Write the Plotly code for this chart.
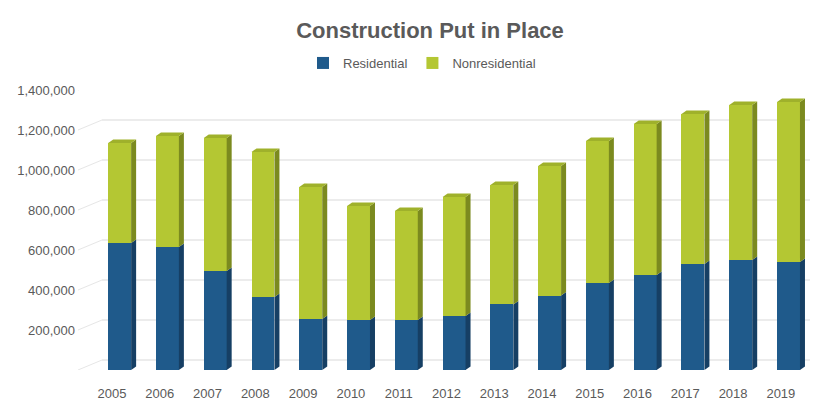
import plotly.graph_objects as go

# Construction put in place, by year
years = ["2005", "2006", "2007", "2008", "2009", "2010", "2011", "2012",
         "2013", "2014", "2015", "2016", "2017", "2018", "2019"]
residential = [635000, 615000, 495000, 365000, 255000, 250000, 250000, 270000,
               328000, 372000, 435000, 475000, 530000, 550000, 540000]
nonresidential = [500000, 555000, 665000, 725000, 660000, 570000, 545000, 595000,
                  597000, 648000, 710000, 755000, 750000, 775000, 800000]
y_ticks = [200000, 400000, 600000, 800000, 1000000, 1200000, 1400000]

# page / plot geometry
W, H = 818, 401
M_L, M_R, M_T, M_B = 80, 8, 90, 31
X_RANGE = [-0.67, 14.61]
Y_RANGE = [0, 1400000]
plot_w = W - M_L - M_R
plot_h = H - M_T - M_B
x_per_px = (X_RANGE[1] - X_RANGE[0]) / plot_w
y_per_px = (Y_RANGE[1] - Y_RANGE[0]) / plot_h

# bar styling (front face + extruded side / top faces)
BAR_W = 0.48
BAR_OFF = -0.08
DEPTH_X = 5 * x_per_px
DEPTH_Y = 3.5 * y_per_px
WALL_RISE = 10          # px rise of the back wall gridlines
WALL_RUN = 22           # px run of the side wall diagonals

C_RES, C_RES_SIDE = "#1f5a8b", "#163f64"
C_NON, C_NON_SIDE, C_NON_TOP = "#b4c733", "#7b8a1f", "#9fb12b"
C_TEXT = "#5a5a5a"
C_GRID = "#d9d9d9"

xs = list(range(len(years)))

fig = go.Figure()
fig.add_trace(go.Bar(x=xs, y=residential, name="Residential",
                     marker=dict(color=C_RES, line=dict(width=0)),
                     width=BAR_W, offset=BAR_OFF))
fig.add_trace(go.Bar(x=xs, y=nonresidential, name="Nonresidential",
                     marker=dict(color=C_NON, line=dict(width=0)),
                     width=BAR_W, offset=BAR_OFF))

shapes = []

# back wall gridlines and side wall diagonals
for v in [0] + y_ticks:
    shapes.append(dict(type="line", xref="paper", yref="y",
                       xsizemode="pixel", ysizemode="pixel",
                       xanchor=0, yanchor=v,
                       x0=WALL_RUN, x1=plot_w, y0=WALL_RISE, y1=WALL_RISE,
                       line=dict(color=C_GRID, width=1), layer="below"))
    shapes.append(dict(type="line", xref="paper", yref="y",
                       xsizemode="pixel", ysizemode="pixel",
                       xanchor=0, yanchor=v,
                       x0=-2, x1=WALL_RUN, y0=0, y1=WALL_RISE,
                       line=dict(color="#e6e6e6", width=1), layer="below"))


def side_face(xr, lo, hi, color):
    path = (f"M {xr},{lo} L {xr + DEPTH_X},{lo + DEPTH_Y} "
            f"L {xr + DEPTH_X},{hi + DEPTH_Y} L {xr},{hi} Z")
    return dict(type="path", xref="x", yref="y", path=path,
                fillcolor=color, line=dict(width=0), layer="above")


for i, (r, n) in enumerate(zip(residential, nonresidential)):
    xl = i + BAR_OFF
    xr = xl + BAR_W
    top = r + n
    shapes.append(side_face(xr, 0, r, C_RES_SIDE))
    shapes.append(side_face(xr, r, top, C_NON_SIDE))
    cap = (f"M {xl},{top} L {xl + DEPTH_X},{top + DEPTH_Y} "
           f"L {xr + DEPTH_X},{top + DEPTH_Y} L {xr},{top} Z")
    shapes.append(dict(type="path", xref="x", yref="y", path=cap,
                       fillcolor=C_NON_TOP, line=dict(width=0), layer="above"))

fig.update_layout(
    width=W, height=H,
    margin=dict(l=M_L, r=M_R, t=M_T, b=M_B, autoexpand=False),
    paper_bgcolor="white", plot_bgcolor="white",
    barmode="stack",
    font=dict(family="Liberation Sans, Arial, sans-serif", color=C_TEXT, size=13),
    title=dict(text="<b>Construction Put in Place</b>",
               font=dict(size=22, color=C_TEXT),
               x=430 / W, xref="container", xanchor="center",
               y=1 - 30 / H, yref="container", yanchor="middle"),
    legend=dict(orientation="h", x=422 / W, xref="container", xanchor="center",
                y=1 - 63 / H, yref="container", yanchor="middle",
                font=dict(size=13, color=C_TEXT), itemwidth=30,
                traceorder="normal", bgcolor="rgba(0,0,0,0)"),
    xaxis=dict(range=X_RANGE, tickvals=xs, ticktext=years, showgrid=False,
               zeroline=False, showline=False, ticks="", automargin=False,
               ticklabelstandoff=14, tickfont=dict(size=13, color=C_TEXT)),
    yaxis=dict(range=Y_RANGE, tickvals=y_ticks, tickformat=",d",
               showgrid=False, zeroline=False, showline=False, ticks="",
               automargin=False,
               ticklabelstandoff=4, tickfont=dict(size=13, color=C_TEXT)),
    shapes=shapes,
    bargap=0.5,
)

fig.write_html("out.html")
